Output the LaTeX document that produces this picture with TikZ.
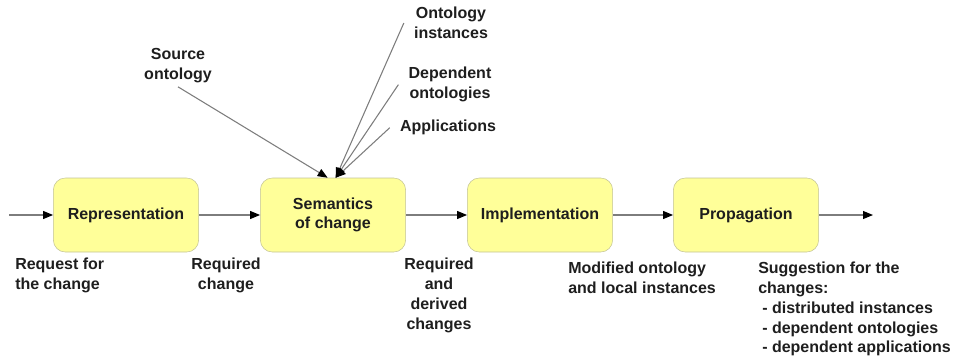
\documentclass[tikz,border=0pt]{standalone}
\usepackage{fontspec}
\setmainfont{Liberation Sans}
\usetikzlibrary{arrows.meta}
\definecolor{boxfill}{RGB}{255,255,153}
\definecolor{boxline}{RGB}{195,195,150}
\definecolor{linegray}{RGB}{125,125,125}
\definecolor{textgray}{RGB}{30,30,30}
\tikzset{>/.tip={Triangle[length=7.5pt,width=6pt,color=black]}}

\begin{document}
\begin{tikzpicture}[x=0.75pt,y=-0.75pt,
  every node/.style={font=\bfseries\fontsize{12}{14.8}\selectfont, text=textgray, inner sep=0pt},
  stage/.style={draw=boxline, fill=boxfill, rounded corners=9pt, minimum width=109pt, minimum height=55.5pt, align=center},
  flow/.style={draw=linegray, line width=0.8pt, ->}]
\useasboundingbox (0,0) rectangle (957,358);
% process stages
\node[stage] (rep)  at (126,215) {Representation};
\node[stage] (sem)  at (333,215) {Semantics\\of change};
\node[stage] (impl) at (540,215) {Implementation};
\node[stage] (prop) at (746,215) {Propagation};
\coordinate (in)  at (9,215);
\coordinate (out) at (873,215);
% labels below
\node[anchor=north west, align=left]   (req) at (15,258)  {Request for\\the change};
\node[anchor=north, align=center]      (rch) at (226,258) {Required\\change};
\node[anchor=north, align=center]      (rdc) at (439,258) {Required\\and\\derived\\changes};
\node[anchor=north west, align=left]   (mod) at (568,262) {Modified ontology\\and local instances};
\node[anchor=north west, align=left]   (sug) at (758,262) {Suggestion for the\\changes:\\\hspace{3pt}- distributed instances\\\hspace{3pt}- dependent ontologies\\\hspace{3pt}- dependent applications};
% inputs above
\node[anchor=north, align=center] (src)  at (178,48)  {Source\\ontology};
\node[anchor=north, align=center] (inst) at (451,7)   {Ontology\\instances};
\node[anchor=north, align=center] (dep)  at (450,67)  {Dependent\\ontologies};
\node[anchor=north, align=center] (app)  at (448,120) {Applications};
\foreach \a/\b in {in/rep, rep/sem, sem/impl, impl/prop, prop/out}
{
  \draw[flow] (\a) -- (\b);
}
\draw[flow] ([yshift=-3pt]src.south) -- ([xshift=-4pt]sem.north);
\foreach \s in {inst,dep,app}
{
  \draw[flow] ([xshift=-7.5pt]\s.west) -- ([xshift=2pt]sem.north);
}
\end{tikzpicture}
\end{document}
